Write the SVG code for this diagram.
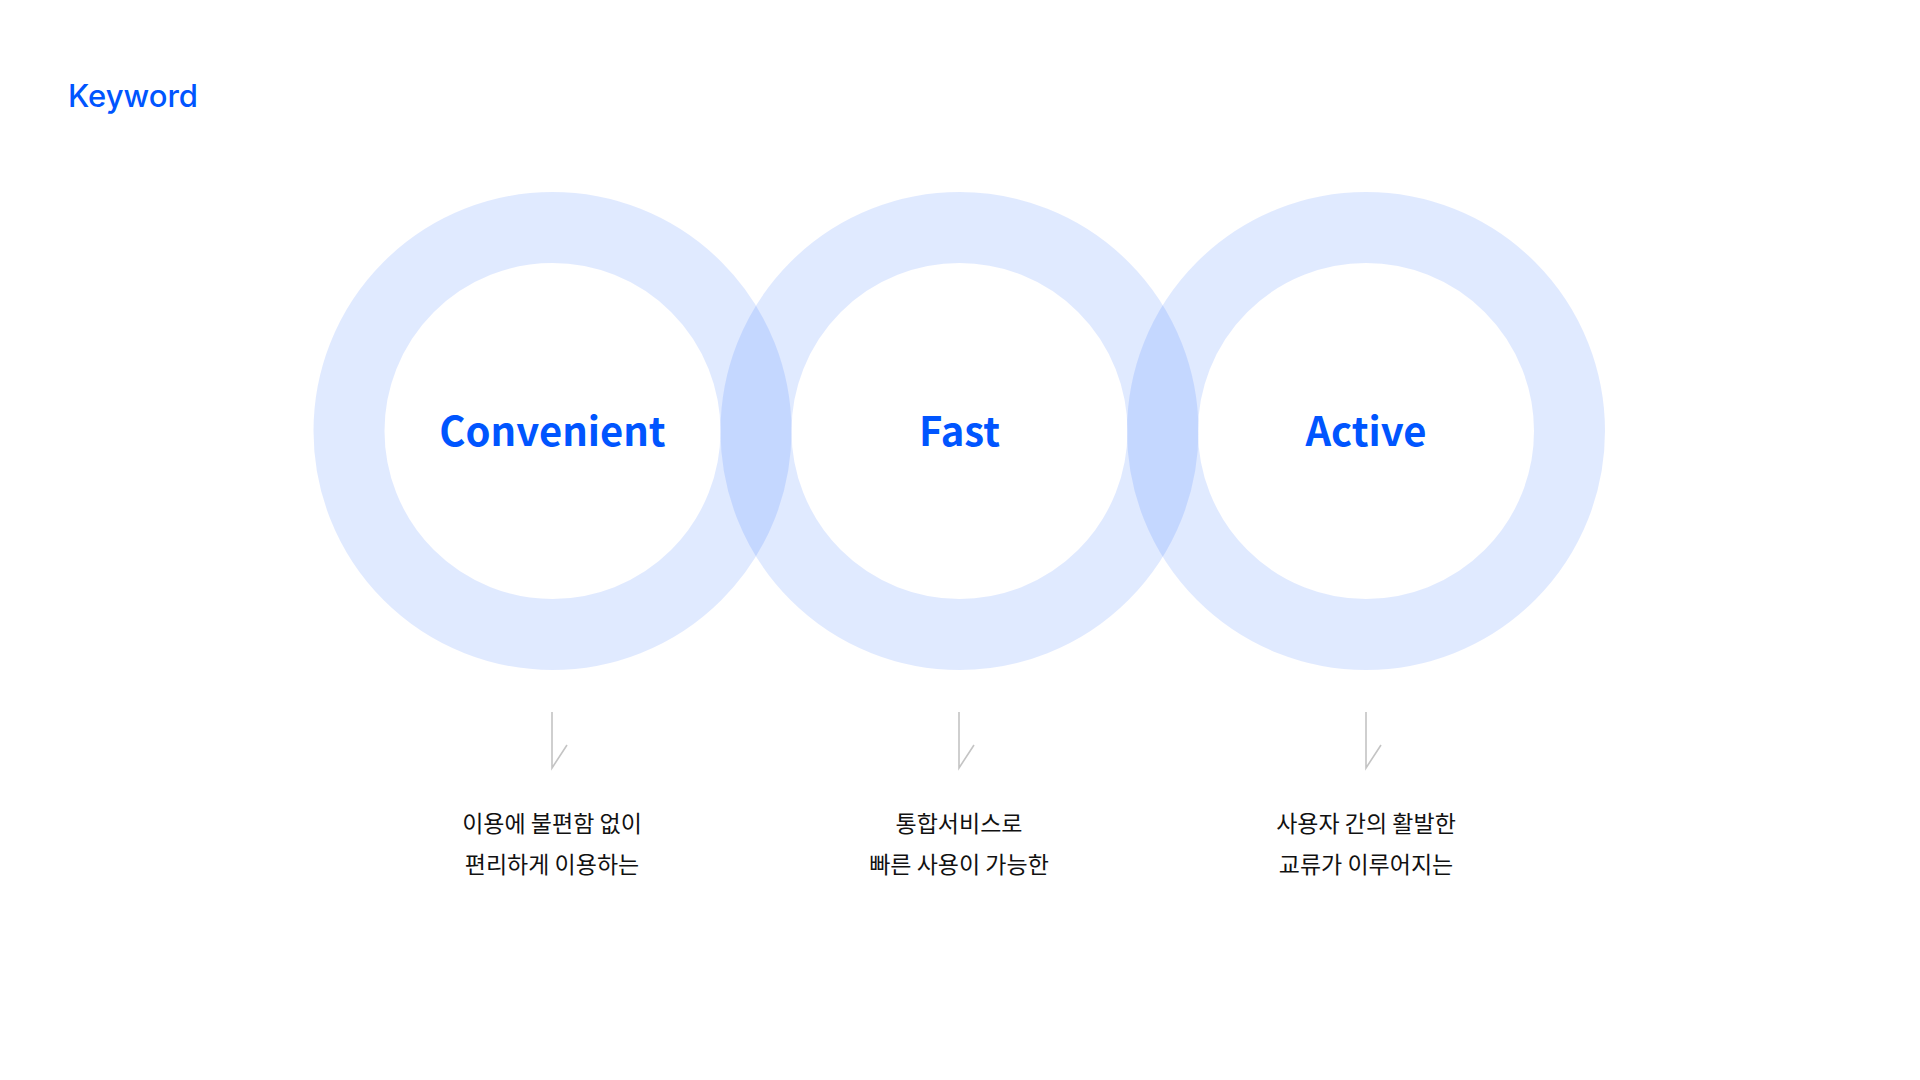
<svg xmlns="http://www.w3.org/2000/svg" width="1920" height="1080" viewBox="0 0 1920 1080">
  <style>
    .ring { fill: none; stroke: #0055ff; stroke-opacity: 0.12; stroke-width: 71; }
    .title { font-family: "Noto Sans CJK KR", "Noto Sans", sans-serif; font-weight: 700; font-size: 40px; fill: #0055ff; text-anchor: middle; }
    .desc { font-family: "Noto Sans CJK KR", "Noto Sans", sans-serif; font-weight: 400; font-size: 23px; fill: #111111; text-anchor: middle; }
    .heading { font-family: "Inter", "Liberation Sans", sans-serif; font-weight: 500; font-size: 31px; fill: #0055ff; }
    .arrow { fill: none; stroke: #c4c4c4; stroke-width: 1.6; }
  </style>
  <rect width="1920" height="1080" fill="#ffffff"/>

  <text class="heading" x="68" y="107">Keyword</text>

  <!-- keyword rings -->
  <g id="node-convenient">
    <circle class="ring" cx="552.5" cy="431" r="203.5"/>
    <text class="title" x="552.5" y="446">Convenient</text>
  </g>
  <g id="node-fast">
    <circle class="ring" cx="959.5" cy="431" r="203.5"/>
    <text class="title" x="959.5" y="446">Fast</text>
  </g>
  <g id="node-active">
    <circle class="ring" cx="1366" cy="431" r="203.5"/>
    <text class="title" x="1366" y="446">Active</text>
  </g>

  <!-- down markers from each ring to its description -->
  <g id="connectors">
    <path class="arrow" d="M552 712 V768 L567 745"/>
    <path class="arrow" d="M959 712 V768 L974 745"/>
    <path class="arrow" d="M1366 712 V768 L1381 745"/>
  </g>

  <g id="desc-convenient">
    <text class="desc" x="552" y="832">이용에 불편함 없이</text>
    <text class="desc" x="552" y="873">편리하게 이용하는</text>
  </g>
  <g id="desc-fast">
    <text class="desc" x="959" y="832">통합서비스로</text>
    <text class="desc" x="959" y="873">빠른 사용이 가능한</text>
  </g>
  <g id="desc-active">
    <text class="desc" x="1366" y="832">사용자 간의 활발한</text>
    <text class="desc" x="1366" y="873">교류가 이루어지는</text>
  </g>
</svg>
